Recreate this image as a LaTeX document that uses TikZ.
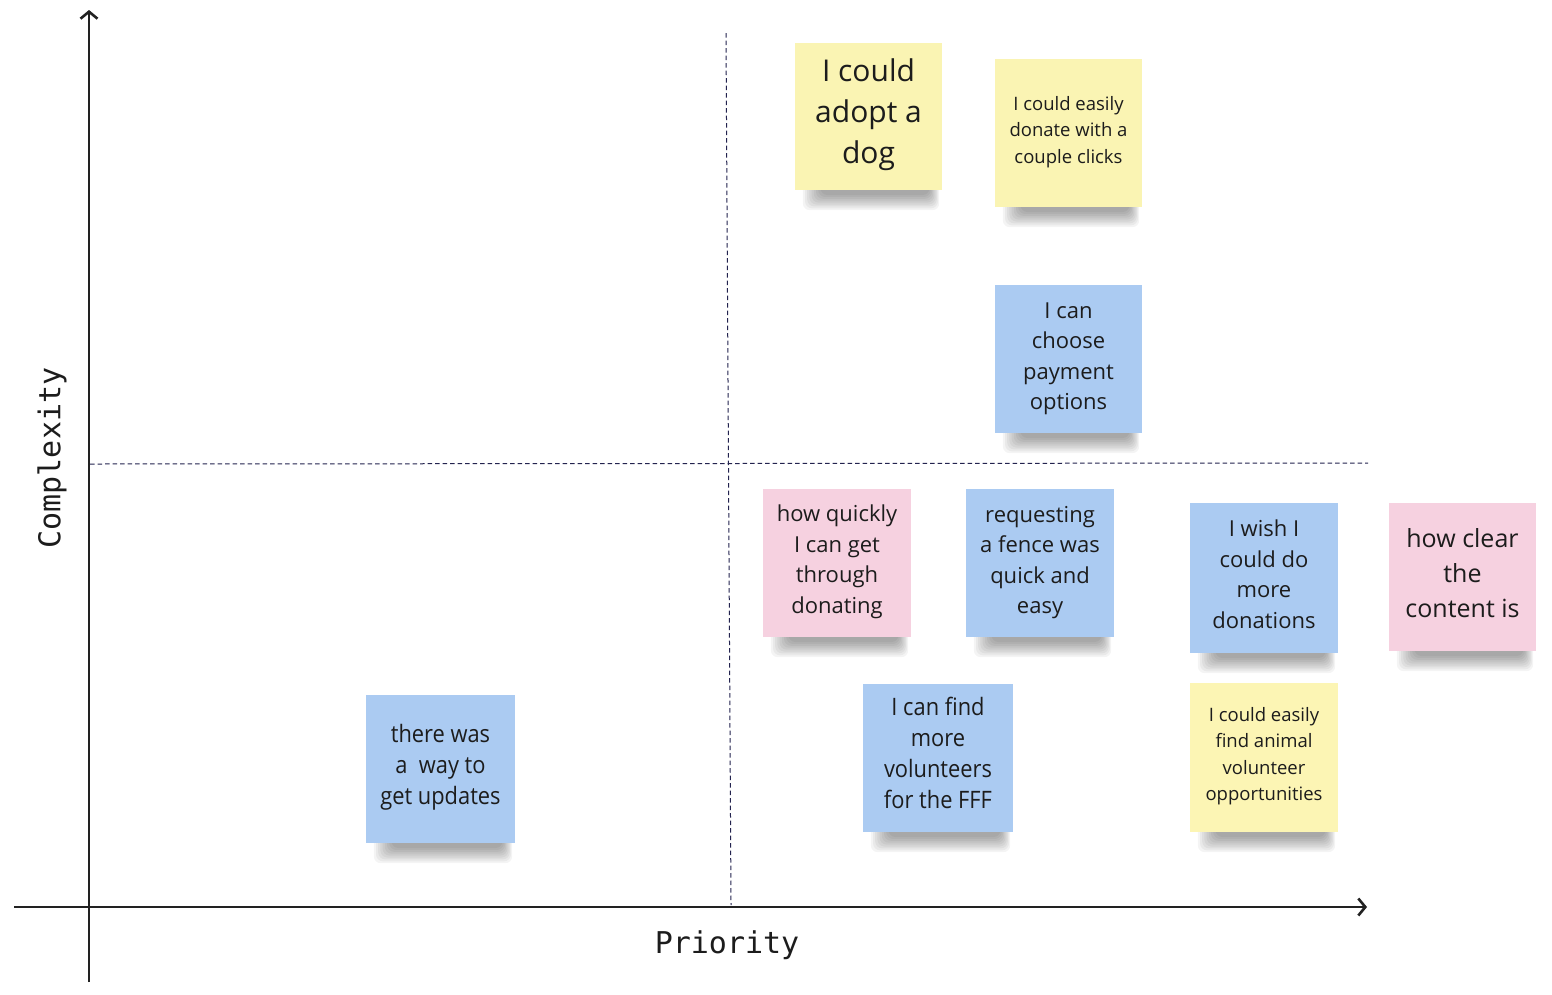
\documentclass[tikz,border=0pt]{standalone}
\usepackage{fontspec}
\setmainfont{Open Sans}
\newfontfamily\axisfont{DejaVu Sans Mono}
\newfontfamily\condfont[FakeStretch=0.91]{Open Sans}
\usetikzlibrary{arrows.meta,backgrounds,calc}
\definecolor{noteyellow}{HTML}{FAF4B3}
\definecolor{noteyellowb}{HTML}{FCF5B4}
\definecolor{noteblue}{HTML}{ABCBF2}
\definecolor{notepink}{HTML}{F6D1E0}
\definecolor{axisgray}{HTML}{222222}
\definecolor{guideblue}{HTML}{23234F}
\definecolor{notetext}{HTML}{1C1C1C}
\tikzset{
  note/.style={inner sep=0pt, minimum width=148pt, minimum height=148pt},
  yellownote/.style={note, fill=noteyellow},
  bluenote/.style={note, fill=noteblue},
  pinknote/.style={note, fill=notepink},
  notetxt/.style={inner sep=0pt, align=center, text=notetext},
  fhuge/.style={notetxt, font=\fontsize{30}{41}\selectfont},
  flarge/.style={notetxt, font=\fontsize{25}{35}\selectfont},
  fmid/.style={notetxt, font=\fontsize{22}{30.5}\selectfont},
  fcond/.style={notetxt, font=\condfont\fontsize{24}{31}\selectfont},
  fsmall/.style={notetxt, font=\fontsize{18.5}{26.5}\selectfont},
  axisline/.style={draw=axisgray, line width=2.7pt},
  axistip/.style={-{Straight Barb[length=7pt,width=17pt,line width=2.6pt]}},
  guide/.style={draw=guideblue, line width=1pt, dash pattern=on 4.5pt off 3pt},
  axislabel/.style={font=\axisfont\fontsize{30}{30}\selectfont, text=notetext, inner sep=0pt},
  shadowpiece/.style={fill=black, opacity=0.045, rounded corners=7pt},
}
\begin{document}
\begin{tikzpicture}[x=1pt, y=-1pt]
\useasboundingbox (0,0) rectangle (1552,994);

% guides
\coordinate (vgt) at (726,33);
\coordinate (vgb) at (731,905);
\coordinate (hgl) at (90,464);
\coordinate (hgr) at (1368,463);
\draw[guide] (vgt) -- (vgb);
\draw[guide] (hgl) -- (hgr);

% axes
\coordinate (yb) at (89,982);
\coordinate (yt) at (89,10);
\coordinate (xl) at (14,907);
\coordinate (xr) at (1367,907);
\draw[axisline, axistip] (yb) -- (yt);
\draw[axisline, axistip] (xl) -- (xr);

\node[axislabel, rotate=90] (cl) at (52,458) {Complexity};
\node[axislabel] (pl) at (727,945) {Priority};

% notes
\node[yellownote, minimum width=147pt, minimum height=147pt] (n1) at (868.5,116.5) {};
\node[fhuge] (t1) at (868.5,115) {I could\\adopt a\\dog};
\node[yellownote, minimum width=147pt] (n2) at (1068.5,133) {};
\node[fsmall] (t2) at (1068.5,132) {I could easily\\donate with a\\couple clicks};
\node[bluenote, minimum width=147pt] (n3) at (1068.5,359) {};
\node[fmid] (t3) at (1068.5,359) {I can\\choose\\payment\\options};
\node[pinknote] (n4) at (837,563) {};
\node[fmid] (t4) at (837,562) {how quickly\\I can get\\through\\donating};
\node[bluenote] (n5) at (1040,563) {};
\node[fmid] (t5) at (1040,562.5) {requesting\\a fence was\\quick and\\easy};
\node[bluenote, minimum height=150pt] (n6) at (1264,578) {};
\node[fmid] (t6) at (1264,574) {I wish I\\could do\\more\\donations};
\node[pinknote, minimum width=147pt] (n7) at (1462.5,577) {};
\node[flarge] (t7) at (1462.5,573) {how clear\\the\\content is};
\node[bluenote, minimum width=150pt] (n8) at (938,758) {};
\node[fcond] (t8) at (938,753) {I can find\\more\\volunteers\\for the FFF};
\node[yellownote, fill=noteyellowb, minimum height=149pt] (n9) at (1264,757.5) {};
\node[fsmall] (t9) at (1264,756) {I could easily\\find animal\\volunteer\\opportunities};
\node[bluenote, minimum width=149pt] (n10) at (440.5,769) {};
\node[fcond] (t10) at (440.5,767.5) {there was\\a~~way to\\get updates};

% shadows
\begin{scope}[on background layer]
\fill[white] (0,0) rectangle (1552,994);
\foreach \n in {n1,n2,n3,n4,n5,n6,n7,n8,n9,n10} {
  \foreach \i in {0,...,8} {
    \fill[shadowpiece] ($(\n.south west)+(8+2.2*\i,-8)$) rectangle ($(\n.south east)+(-3-1.2*\i,20-1.9*\i)$);
  }
}
\end{scope}
\end{tikzpicture}
\end{document}
